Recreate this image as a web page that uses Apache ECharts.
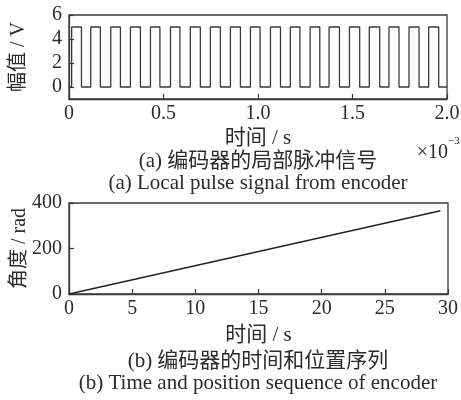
<!DOCTYPE html>
<html>
<head>
<meta charset="utf-8">
<script src="https://cdn.jsdelivr.net/npm/echarts@6/dist/echarts.min.js"></script>
<style>
  html, body { margin: 0; padding: 0; background: #fff; }
  #chart { width: 461px; height: 400px; }
</style>
</head>
<body>
<div id="chart"></div>
<script>
// (a) encoder pulse train: edge times in ms, alternating rise / fall, first edge is a rise
const pulseEdgesMs = [
  0.014, 0.066, 0.115, 0.166, 0.221, 0.272, 0.325, 0.378, 0.431, 0.481,
  0.537, 0.587, 0.642, 0.695, 0.748, 0.801, 0.854, 0.907, 0.960, 1.011,
  1.066, 1.119, 1.171, 1.222, 1.276, 1.327, 1.376, 1.431, 1.484, 1.538,
  1.589, 1.644, 1.693, 1.746, 1.799, 1.852, 1.903, 1.956
];
const pulseHigh = 5;
const pulseLow = 0;
const pulseStartMs = 0;
const pulseEndMs = 2.0;
const pulseXTicks = [0, 0.5, 1.0, 1.5, 2.0];
const pulseYTicks = [0, 2, 4, 6];

// (b) encoder angle over time
const angleTimes = [0, 29.4];
const angleValues = [0, 366];
const angleXTicks = [0, 5, 10, 15, 20, 25, 30];
const angleYTicks = [0, 200, 400];

// texts
const pulseXName = '时间 / s';
const pulseYName = '幅值 / V';
const angleXName = '时间 / s';
const angleYName = '角度 / rad';
const captionA_cn = '(a) 编码器的局部脉冲信号';
const captionA_en = '(a) Local pulse signal from encoder';
const captionB_cn = '(b) 编码器的时间和位置序列';
const captionB_en = '(b) Time and position sequence of encoder';

// build the square wave with vertical transitions at each edge
const pulseData = [[pulseStartMs, pulseLow]];
let level = pulseLow;
pulseEdgesMs.forEach(t => {
  const next = level === pulseLow ? pulseHigh : pulseLow;
  pulseData.push([t, level], [t, next]);
  level = next;
});
pulseData.push([pulseEndMs, level]);

const angleData = angleTimes.map((t, i) => [t, angleValues[i]]);

const INK = '#2b2b2b';
const LINE = '#3a3a3a';
const FONT = "'Liberation Serif', 'Noto Sans CJK SC', serif";
const labelStyle = { color: INK, fontFamily: FONT, fontSize: 20 };
const xNameStyle = { color: INK, fontFamily: FONT, fontSize: 21 };
const yNameStyle = { color: INK, fontFamily: FONT, fontSize: 20 };

function xAxisCfg(gridIndex, min, max, ticks, name, gap, fmt) {
  return {
    type: 'value', gridIndex, min, max,
    interval: ticks[1] - ticks[0],
    name, nameLocation: 'middle', nameGap: gap, nameTextStyle: xNameStyle,
    nameMoveOverlap: false,
    axisLine: { show: true, onZero: false, lineStyle: { color: LINE, width: 1.3 } },
    axisTick: { show: true, inside: true, length: 5, lineStyle: { color: LINE, width: 1.2 } },
    axisLabel: Object.assign({ margin: 5, formatter: fmt, customValues: ticks, hideOverlap: false }, labelStyle),
    splitLine: { show: false }
  };
}
function yAxisCfg(gridIndex, min, max, ticks, name, gap) {
  return {
    type: 'value', gridIndex, min, max,
    name, nameLocation: 'middle', nameGap: gap, nameRotate: 90, nameTextStyle: yNameStyle,
    nameMoveOverlap: false,
    axisLine: { show: true, onZero: false, lineStyle: { color: LINE, width: 1.3 } },
    axisTick: { show: true, inside: true, length: 5, customValues: ticks, lineStyle: { color: LINE, width: 1.2 } },
    axisLabel: Object.assign({ margin: 7, customValues: ticks }, labelStyle),
    splitLine: { show: false }
  };
}

const gridBase = { show: true, borderColor: LINE, borderWidth: 1.3, containLabel: false, outerBoundsMode: 'none' };

const chart = echarts.init(document.getElementById('chart'), null, { renderer: 'canvas' });
chart.setOption({
  animation: false,
  backgroundColor: '#fff',
  grid: [
    Object.assign({ left: 69, right: 14, top: 15, height: 84 }, gridBase),
    Object.assign({ left: 69, right: 13, top: 203, height: 91 }, gridBase)
  ],
  xAxis: [
    xAxisCfg(0, 0, 2.0, pulseXTicks, pulseXName, 29, v => (v === 0 ? '0' : v.toFixed(1))),
    xAxisCfg(1, 0, 30, angleXTicks, angleXName, 31, v => String(v))
  ],
  yAxis: [
    yAxisCfg(0, -1, 6, pulseYTicks, pulseYName, 40),
    yAxisCfg(1, 0, 400, angleYTicks, angleYName, 39)
  ],
  series: [
    {
      type: 'line', xAxisIndex: 0, yAxisIndex: 0, data: pulseData,
      showSymbol: false, symbol: 'none',
      lineStyle: { color: LINE, width: 1.3 }
    },
    {
      type: 'line', xAxisIndex: 1, yAxisIndex: 1, data: angleData,
      showSymbol: false, symbol: 'none',
      lineStyle: { color: '#222', width: 1.5 }
    }
  ],
  graphic: [
    { type: 'text', x: 448, y: 153, style: { text: '×10', font: "20px 'Liberation Serif'", fill: INK, textAlign: 'right', textVerticalAlign: 'middle' } },
    { type: 'text', x: 448, y: 141, style: { text: '−3', font: "11px 'Liberation Serif'", fill: INK, textAlign: 'left', textVerticalAlign: 'middle' } },
    { type: 'text', x: 258, y: 161, style: { text: captionA_cn, font: "21px " + FONT, fill: INK, textAlign: 'center', textVerticalAlign: 'middle' } },
    { type: 'text', x: 258, y: 183, style: { text: captionA_en, font: "21px " + FONT, fill: INK, textAlign: 'center', textVerticalAlign: 'middle' } },
    { type: 'text', x: 258, y: 361, style: { text: captionB_cn, font: "21px " + FONT, fill: INK, textAlign: 'center', textVerticalAlign: 'middle' } },
    { type: 'text', x: 258, y: 383, style: { text: captionB_en, font: "21px " + FONT, fill: INK, textAlign: 'center', textVerticalAlign: 'middle' } }
  ]
});
</script>
</body>
</html>
